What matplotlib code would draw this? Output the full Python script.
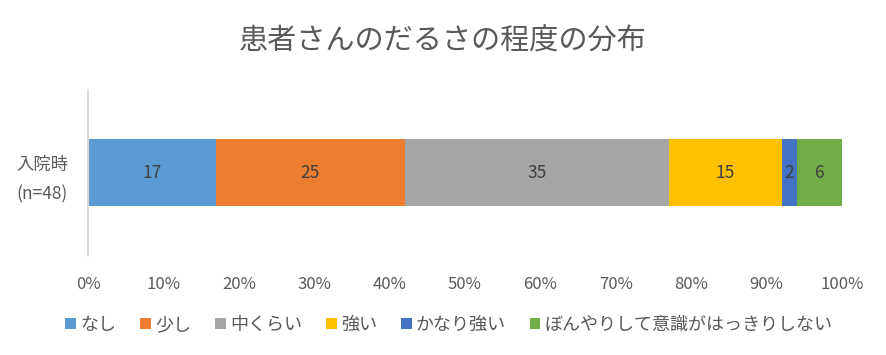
import numpy as np
import matplotlib
matplotlib.use("Agg")
import matplotlib.pyplot as plt

plt.rcParams['font.family'] = ['Noto Sans CJK JP', 'DejaVu Sans']

# Data
# ----------------------------------------------------------------------
CATEGORY = "入院時\n(n=48)"
LABELS = ["なし", "少し", "中くらい", "強い", "かなり強い", "ぼんやりして意識がはっきりしない"]
VALUES = [17, 25, 35, 15, 2, 6]
COLORS = ["#5B9BD5", "#ED7D31", "#A5A5A5", "#FFC000", "#4472C4", "#70AD47"]
TITLE = "患者さんのだるさの程度の分布"
XTICKS = np.arange(0, 101, 10)
# ----------------------------------------------------------------------

fig = plt.figure(figsize=(8.86, 3.55), dpi=100)
ax = fig.add_axes([0.0993, 0.282, 0.851, 0.464])

total = float(sum(VALUES))
left = 0.0
handles = []
for lab, v, c in zip(LABELS, VALUES, COLORS):
    w = 100.0 * v / total
    h = ax.barh(0, w, left=left, height=0.41, color=c, label=lab)
    handles.append(h)
    ax.text(left + w / 2, 0, str(v), ha='center', va='center',
            fontsize=12.5, color='#404040')
    left += w

ax.set_xlim(0, 100)
ax.set_ylim(-0.5, 0.5)
ax.set_xticks(XTICKS)
ax.set_xticklabels(["%d%%" % t for t in XTICKS], fontsize=12, color='#595959')
ax.set_yticks([0])
ax.set_yticklabels([CATEGORY], fontsize=12.5, color='#595959', linespacing=1.75,
                   multialignment='center')
ax.tick_params(axis='both', length=0)
ax.tick_params(axis='x', pad=15)
ax.tick_params(axis='y', pad=14)
for s in ['top', 'right', 'bottom']:
    ax.spines[s].set_visible(False)
ax.spines['left'].set_color('#D9D9D9')
ax.spines['left'].set_linewidth(1.5)

fig.text(0.5, 0.882, TITLE, ha='center', va='center', fontsize=21, color='#595959')

fig.legend(handles=handles, loc='center', bbox_to_anchor=(0.507, 0.085), ncol=6,
           frameon=False, handlelength=0.6, handleheight=0.6, handletextpad=0.25,
           columnspacing=1.3, prop={'size': 13}, labelcolor='#595959')

fig.savefig("out.png", dpi=100)
